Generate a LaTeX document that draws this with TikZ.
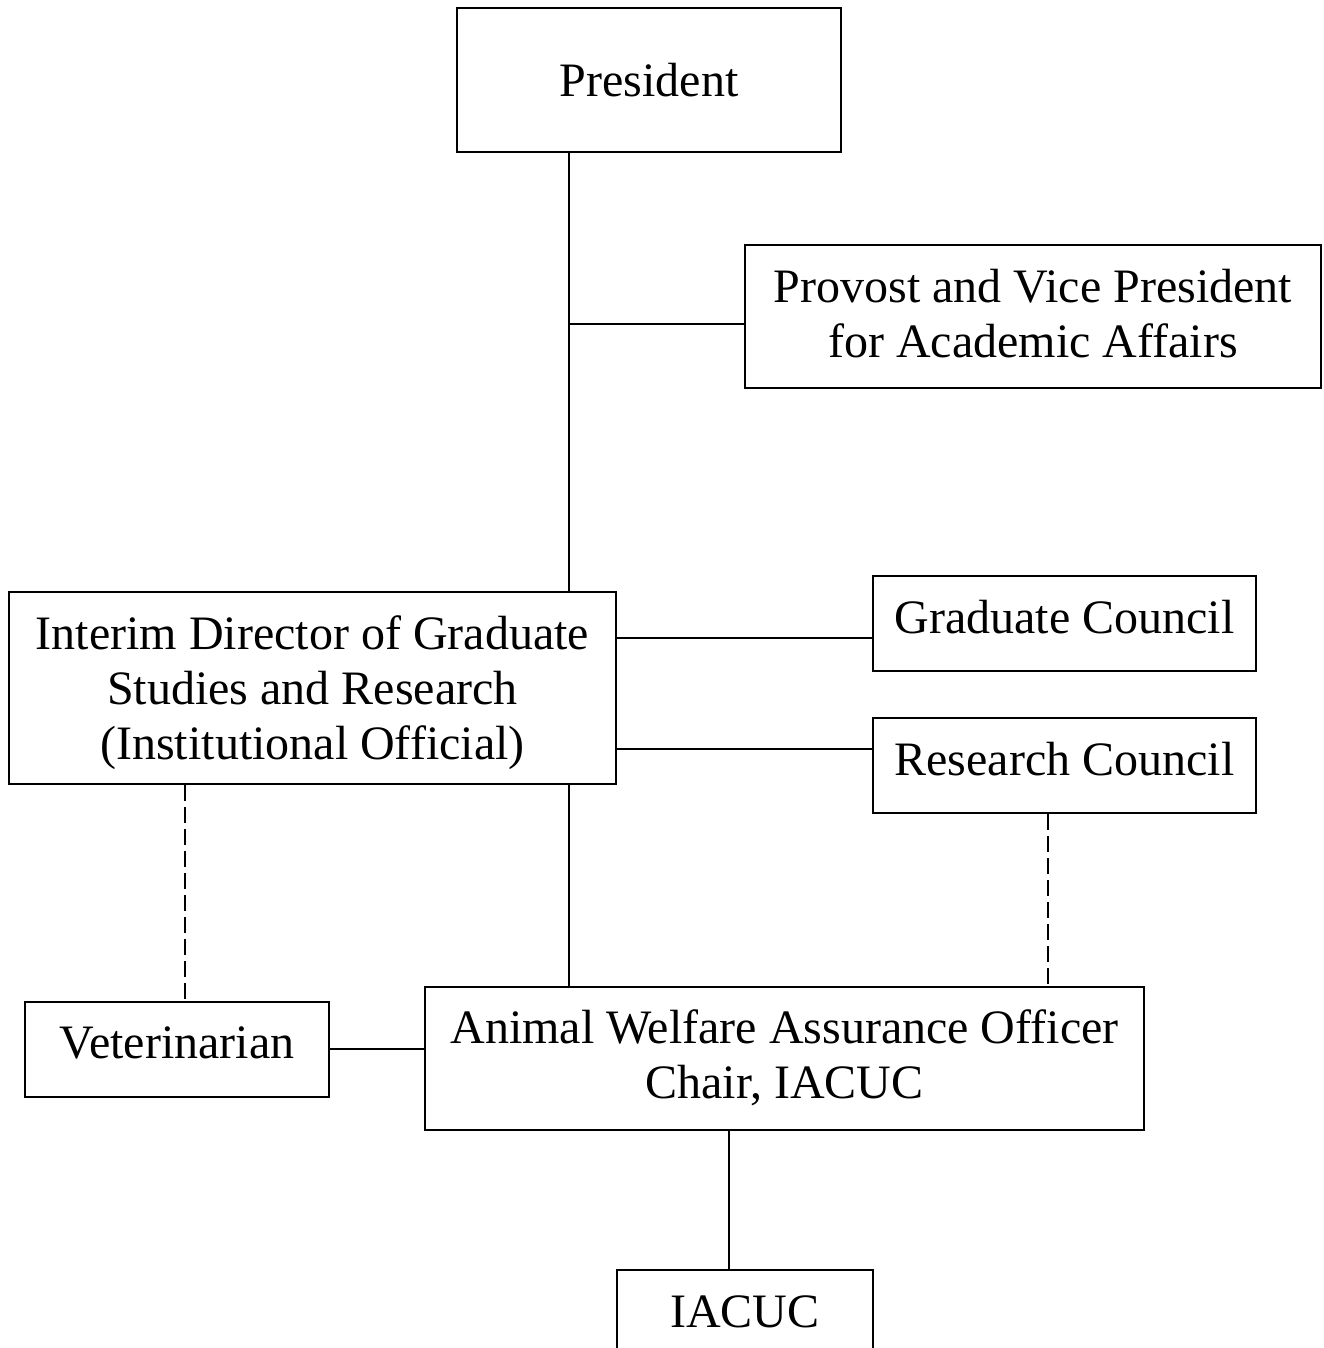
\documentclass[tikz,border=0pt]{standalone}
\usepackage{fontspec}
\setmainfont{Liberation Serif}
\begin{document}
\begin{tikzpicture}[x=1pt,y=-1pt,
  box/.style={draw, line width=2pt, inner sep=0pt},
  txt/.style={align=center, inner sep=0pt, font=\fontsize{48}{55}\selectfont},
  conn/.style={line width=2pt},
  dashconn/.style={line width=2pt, dash pattern=on 16pt off 6pt}]
\useasboundingbox (0,0) rectangle (1323,1348);
\clip (0,0) rectangle (1323,1348);
\node[box, minimum width=384, minimum height=144, label={[txt]center:President}] (pres) at (649,80) {};
\node[box, minimum width=576, minimum height=143, label={[txt,yshift=3pt]center:Provost and Vice President\\for Academic Affairs}] (prov) at (1033,316.5) {};
\node[box, minimum width=607, minimum height=192, label={[txt,yshift=-5pt]center:Interim Director of Graduate\\Studies and Research\\(Institutional Official)}] (interim) at (312.5,688) {};
\node[box, minimum width=383, minimum height=95, label={[txt,yshift=6pt]center:Graduate Council}] (gc) at (1064.5,623.5) {};
\node[box, minimum width=383, minimum height=95, label={[txt,yshift=6pt]center:Research Council}] (rc) at (1064.5,765.5) {};
\node[box, minimum width=304, minimum height=95, label={[txt,yshift=7pt]center:Veterinarian}] (vet) at (177,1049.5) {};
\node[box, minimum width=719, minimum height=143, label={[txt,yshift=1pt]center:Animal Welfare Assurance Officer\\Chair, IACUC}] (awo) at (784.5,1058.5) {};
\node[box, minimum width=256, minimum height=90, label={[txt,yshift=3pt]center:IACUC}] (iacuc) at (745,1315) {};
\coordinate (j1) at (569,324);
\coordinate (j2) at (0,638);
\coordinate (j3) at (0,749);
\coordinate (j4) at (185,0);
\coordinate (j5) at (1048,0);
\coordinate (j6) at (0,1049);
\coordinate (j7) at (729,0);
\draw[conn] (pres.south -| j1) -- (interim.north -| j1);
\draw[conn] (j1) -- (prov.west |- j1);
\draw[conn] (interim.east |- j2) -- (gc.west |- j2);
\draw[conn] (interim.east |- j3) -- (rc.west |- j3);
\draw[dashconn] (interim.south -| j4) -- (vet.north -| j4);
\draw[conn] (interim.south -| j1) -- (awo.north -| j1);
\draw[dashconn] (rc.south -| j5) -- (awo.north -| j5);
\draw[conn] (vet.east |- j6) -- (awo.west |- j6);
\draw[conn] (awo.south -| j7) -- (iacuc.north -| j7);
\end{tikzpicture}
\end{document}
